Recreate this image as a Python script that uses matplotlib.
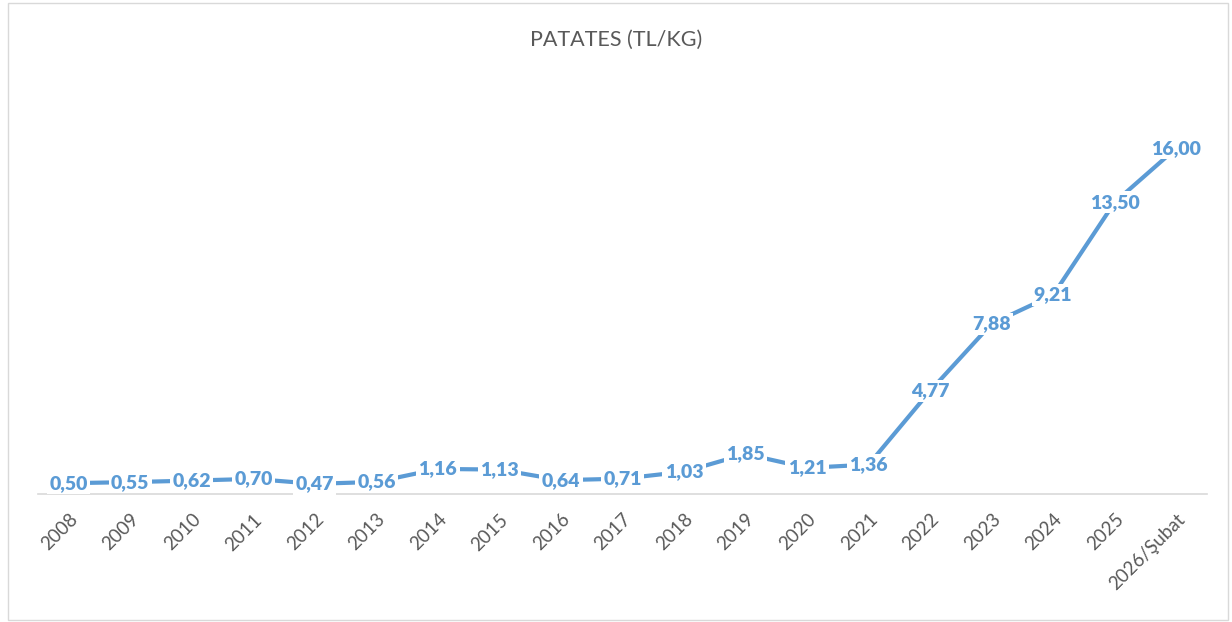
import matplotlib.pyplot as plt
from matplotlib.patches import Rectangle

# patates fiyatlari, TL/kg
years = ["2008", "2009", "2010", "2011", "2012", "2013", "2014", "2015", "2016",
         "2017", "2018", "2019", "2020", "2021", "2022", "2023", "2024", "2025",
         "2026/Şubat"]
prices = [0.50, 0.55, 0.62, 0.70, 0.47, 0.56, 1.16, 1.13, 0.64,
          0.71, 1.03, 1.85, 1.21, 1.36, 4.77, 7.88, 9.21, 13.50, 16.00]

blue = "#5B9BD5"
gray = "#595959"

plt.rcParams['font.family'] = ['Lato', 'DejaVu Sans']

fig = plt.figure(figsize=(12.32, 6.22), dpi=100)
ax = fig.add_axes([38 / 1232, 1 - 494 / 622, (1207 - 38) / 1232, 389 / 622])

x = list(range(len(years)))
ax.plot(x, prices, color=blue, linewidth=3.0, solid_capstyle='butt', zorder=2)

for xi, v in zip(x, prices):
    ax.annotate(f"{v:.2f}".replace(".", ","), (xi, v), ha='center', va='center',
                fontsize=14, fontweight='heavy', color=blue, zorder=4,
                bbox=dict(boxstyle='square,pad=0.12', fc='white', ec='none'))

ax.set_xlim(-0.5, len(years) - 0.5)
ax.set_ylim(0, 18)
ax.set_xticks(x)
ax.set_xticklabels(years, rotation=45, ha='right', rotation_mode='anchor',
                   fontsize=13.5, color=gray)
ax.tick_params(axis='x', length=0, pad=12)
ax.set_yticks([])
for side in ['top', 'right', 'left']:
    ax.spines[side].set_visible(False)
ax.spines['bottom'].set_color('#D9D9D9')
ax.spines['bottom'].set_linewidth(1.2)
ax.spines['bottom'].set_zorder(1)

fig.text(0.5, 1 - 40 / 622, "PATATES (TL/KG)", ha='center', va='center',
         fontsize=15.5, color=gray)

# chart border
fig.patches.append(Rectangle((8 / 1232, 2 / 622), 1220 / 1232, 617 / 622,
                             transform=fig.transFigure, fill=False,
                             ec='#D9D9D9', lw=1))

fig.savefig("out.png", dpi=100)
